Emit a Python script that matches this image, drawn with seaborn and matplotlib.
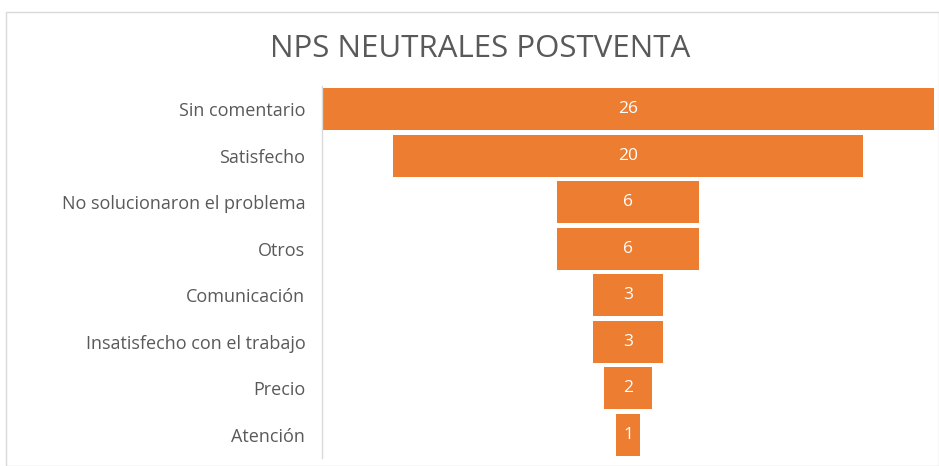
import matplotlib
matplotlib.use("Agg")
import matplotlib.pyplot as plt
import seaborn as sns
import pandas as pd
from matplotlib.patches import Rectangle

categories = ["Sin comentario", "Satisfecho", "No solucionaron el problema", "Otros",
              "Comunicación", "Insatisfecho con el trabajo", "Precio", "Atención"]
values = [26, 20, 6, 6, 3, 3, 2, 1]
title = "NPS NEUTRALES POSTVENTA"

df = pd.DataFrame({"cat": categories, "val": values})

sns.set_theme(style="white")
plt.rcParams["font.family"] = ["Open Sans", "DejaVu Sans"]

fig = plt.figure(figsize=(9.39, 4.66), dpi=100)
ax = fig.add_axes([322/939, 1-458/466, (934-322)/939, (458-86)/466])

sns.barplot(data=df, x="val", y="cat", orient="h", color="#ED7D31", saturation=1,
            width=0.9, ax=ax, order=categories)

vmax = max(values)
for p, v in zip(ax.patches, values):
    p.set_x((vmax - v) / 2)
    p.set_edgecolor("none")
    ax.text((vmax - v) / 2 + v / 2, p.get_y() + p.get_height() / 2, str(v),
            ha="center", va="center", color="white", fontsize=12.5)

ax.set_xlim(0, vmax)
ax.set_ylim(7.5, -0.5)
ax.set_xlabel("")
ax.set_ylabel("")
ax.set_xticks([])
for s in ["top", "right", "bottom"]:
    ax.spines[s].set_visible(False)
ax.spines["left"].set_color("#d9d9d9")
ax.spines["left"].set_linewidth(1)
ax.tick_params(axis="y", length=0, pad=12, labelsize=13, labelcolor="#595959")

fig.text(480/939, 1-49/466, title, ha="center", va="center", fontsize=22.5, color="#595959")

fig.patches.append(Rectangle((6/939, 0), 1-6/939, 1-12/466, transform=fig.transFigure,
                             fill=False, edgecolor="#d9d9d9", linewidth=1))

fig.savefig("out.png", dpi=100)
